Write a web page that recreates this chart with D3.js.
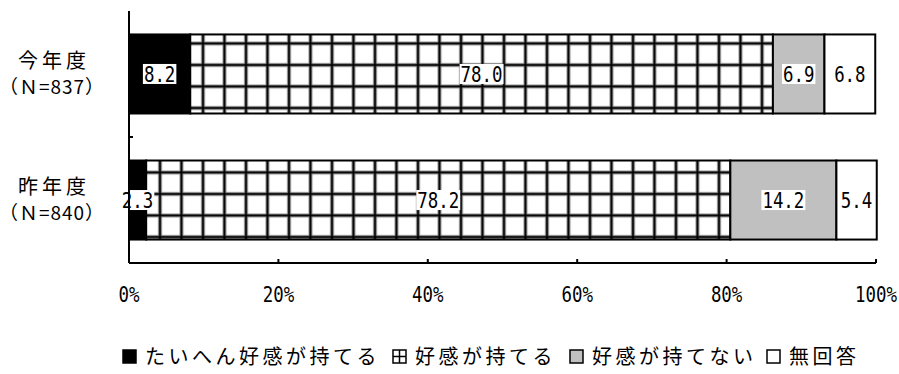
<!DOCTYPE html>
<html>
<head>
<meta charset="utf-8">
<script src="https://cdn.jsdelivr.net/npm/d3@7"></script>
<style>
  body { margin: 0; background: #fff; }
  svg { display: block; }
  .num { font-family: "DejaVu Sans Mono", monospace; }
  .jp { font-family: "Noto Sans CJK JP", sans-serif; }
</style>
</head>
<body>
<div id="chart"></div>
<script>
// categories and series
const categories = ["今年度", "昨年度"];
const sampleSizes = ["（Ｎ=837）", "（Ｎ=840）"];
const seriesNames = ["たいへん好感が持てる", "好感が持てる", "好感が持てない", "無回答"];
const thisYear = [8.2, 78.0, 6.9, 6.8];
const lastYear = [2.3, 78.2, 14.2, 5.4];
const tickValues = [0, 20, 40, 60, 80, 100];

const values = [thisYear, lastYear];

let margin = { top: 11, right: 23, bottom: 111, left: 129 },
    width = 899 - margin.left - margin.right,
    height = 252;

let svg = d3.select("#chart")
    .append("svg")
    .attr("width", 899)
    .attr("height", 374);

// grid hatch pattern for 好感が持てる
let defs = svg.append("defs");
let pat = defs.append("pattern")
    .attr("id", "grid")
    .attr("patternUnits", "userSpaceOnUse")
    .attr("x", 129 + 20)
    .attr("y", 0)
    .attr("width", 21.5)
    .attr("height", 21.5);
pat.append("rect").attr("width", 21.5).attr("height", 21.5).attr("fill", "#fff");
pat.append("rect").attr("x", 9).attr("y", 0).attr("width", 4).attr("height", 21.5).attr("fill", "#999");
pat.append("rect").attr("x", 0).attr("y", 9).attr("width", 21.5).attr("height", 4).attr("fill", "#999");
pat.append("rect").attr("x", 10).attr("y", 0).attr("width", 2).attr("height", 21.5).attr("fill", "#000");
pat.append("rect").attr("x", 0).attr("y", 10).attr("width", 21.5).attr("height", 2).attr("fill", "#000");

const fills = ["#000", "url(#grid)", "#c0c0c0", "#fff"];

let g = svg.append("g")
    .attr("transform", "translate(" + margin.left + "," + margin.top + ")");

let x = d3.scaleLinear().domain([0, 100]).range([0, width]);
let y = d3.scaleBand().domain(categories).range([0, height]).paddingInner(0.373).paddingOuter(0.186);

// narrow tall digits, like the original's gothic font
function numText(sel, sx) {
    return sel.append("text")
        .attr("class", "num")
        .attr("transform", "scale(" + (sx || 0.83) + ",1)")
        .attr("text-anchor", "middle")
        .attr("font-size", 21);
}

// stacked rows
values.forEach(function (row, i) {
    let cum = 0;
    let segs = row.map(function (v, j) {
        let s = { start: cum, end: cum + v, v: v, j: j };
        cum += v;
        return s;
    });
    let rowG = g.append("g");
    rowG.selectAll("rect")
        .data(segs)
        .enter()
        .append("rect")
        .attr("x", function (d) { return x(d.start); })
        .attr("y", y(categories[i]))
        .attr("width", function (d) { return x(d.end) - x(d.start); })
        .attr("height", y.bandwidth())
        .attr("fill", function (d) { return fills[d.j]; })
        .attr("stroke", "#000")
        .attr("stroke-width", 2);

    let labels = rowG.selectAll("g.lab")
        .data(segs)
        .enter()
        .append("g")
        .attr("class", "lab")
        .attr("transform", function (d) {
            return "translate(" + x((d.start + d.end) / 2) + "," + (y(categories[i]) + y.bandwidth() / 2) + ")";
        });
    labels.each(function (d) {
        let lg = d3.select(this);
        let bg = lg.append("rect").attr("fill", "#fff");
        let t = numText(lg).attr("dy", "0.37em").text(d.v.toFixed(1));
        let b = t.node().getBBox();
        bg.attr("x", b.x * 0.83 - 1)
            .attr("y", -10)
            .attr("width", b.width * 0.83 + 2)
            .attr("height", 20);
    });
});

// axes
g.append("line")
    .attr("x1", 0).attr("x2", 0)
    .attr("y1", 0).attr("y2", height)
    .attr("stroke", "#000").attr("stroke-width", 2);
g.append("line")
    .attr("x1", 0).attr("x2", 4)
    .attr("y1", height / 2).attr("y2", height / 2)
    .attr("stroke", "#000").attr("stroke-width", 2);
g.append("line")
    .attr("x1", 0).attr("x2", width)
    .attr("y1", height).attr("y2", height)
    .attr("stroke", "#000").attr("stroke-width", 2);
g.selectAll("line.tick")
    .data(tickValues)
    .enter()
    .append("line")
    .attr("x1", function (d) { return x(d); })
    .attr("x2", function (d) { return x(d); })
    .attr("y1", height - 4).attr("y2", height)
    .attr("stroke", "#000").attr("stroke-width", 2);
g.selectAll("g.tickl")
    .data(tickValues)
    .enter()
    .append("g")
    .attr("class", "tickl")
    .attr("transform", function (d) { return "translate(" + x(d) + "," + (height + 39) + ")"; })
    .each(function (d) {
        numText(d3.select(this)).text(d + "%");
    });

// category labels
categories.forEach(function (c, i) {
    let cy = margin.top + y(c) + y.bandwidth() / 2;
    svg.append("text")
        .attr("class", "jp")
        .attr("x", 54)
        .attr("y", cy - 6)
        .attr("text-anchor", "middle")
        .attr("font-size", 20)
        .attr("letter-spacing", 4)
        .text(c);
    svg.append("text")
        .attr("class", "jp")
        .attr("x", 52)
        .attr("y", cy + 20)
        .attr("text-anchor", "middle")
        .attr("font-size", 19)
        .attr("letter-spacing", 1)
        .text(sampleSizes[i]);
});

// legend
const legendX = [123, 393, 570, 767];
let legend = svg.append("g");
seriesNames.forEach(function (n, i) {
    let lx = legendX[i];
    legend.append("rect")
        .attr("x", lx)
        .attr("y", 350)
        .attr("width", 13)
        .attr("height", 13)
        .attr("fill", i == 1 ? "#fff" : fills[i])
        .attr("stroke", "#000")
        .attr("stroke-width", 1.5);
    if (i == 1) {
        legend.append("line").attr("x1", lx + 6.5).attr("x2", lx + 6.5)
            .attr("y1", 350).attr("y2", 363).attr("stroke", "#000").attr("stroke-width", 1.5);
        legend.append("line").attr("x1", lx).attr("x2", lx + 13)
            .attr("y1", 356.5).attr("y2", 356.5).attr("stroke", "#000").attr("stroke-width", 1.5);
    }
    legend.append("text")
        .attr("class", "jp")
        .attr("x", lx + 22)
        .attr("y", 364)
        .attr("font-size", 20)
        .attr("letter-spacing", 3.5)
        .text(n);
});
</script>
</body>
</html>
